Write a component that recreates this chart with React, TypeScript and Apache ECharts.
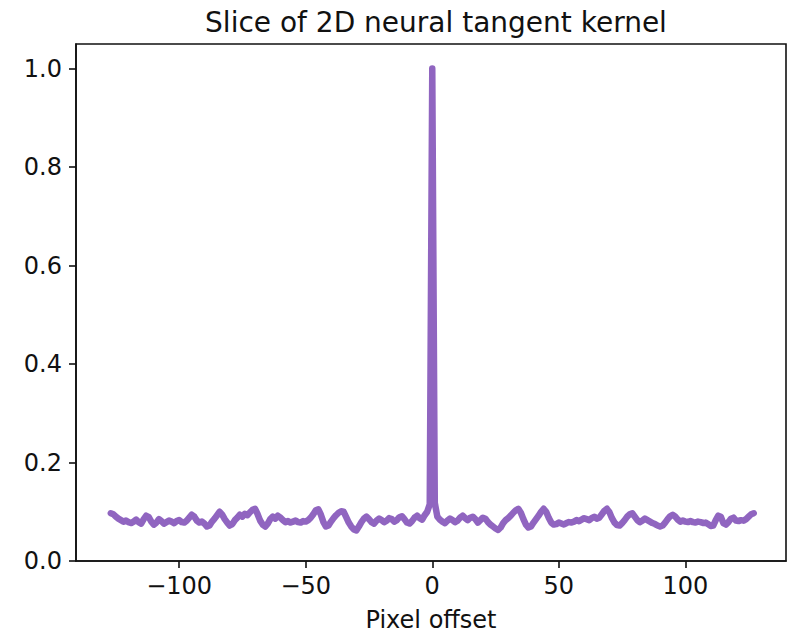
import React, { useEffect, useRef } from "react";
import * as echarts from "echarts";

// Kernel slice values for pixel offsets -128 .. -1
const kernelNegative: number[] = [
  0.097, 0.095, 0.090, 0.086, 0.083, 0.080, 0.082, 0.079,
  0.077, 0.080, 0.084, 0.079, 0.076, 0.085, 0.092, 0.089,
  0.080, 0.074, 0.078, 0.085, 0.081, 0.076, 0.079, 0.082,
  0.080, 0.077, 0.081, 0.083, 0.079, 0.078, 0.082, 0.088,
  0.094, 0.090, 0.082, 0.078, 0.080, 0.076, 0.070, 0.072,
  0.080, 0.086, 0.093, 0.100, 0.094, 0.085, 0.078, 0.072,
  0.075, 0.083, 0.088, 0.094, 0.090, 0.096, 0.093, 0.099,
  0.104, 0.106, 0.095, 0.082, 0.074, 0.070, 0.076, 0.085,
  0.090, 0.086, 0.092, 0.088, 0.083, 0.079, 0.081, 0.078,
  0.080, 0.082, 0.079, 0.078, 0.081, 0.080, 0.083, 0.088,
  0.095, 0.103, 0.105, 0.094, 0.079, 0.070, 0.072, 0.080,
  0.087, 0.093, 0.098, 0.101, 0.100, 0.089, 0.078, 0.070,
  0.064, 0.062, 0.070, 0.079, 0.086, 0.090, 0.085, 0.079,
  0.076, 0.082, 0.086, 0.083, 0.079, 0.082, 0.087, 0.085,
  0.080, 0.083, 0.089, 0.091, 0.085, 0.078, 0.076, 0.081,
  0.088, 0.092, 0.087, 0.084, 0.093, 0.100, 0.115,
];

// Value at zero offset
const kernelCenter = 1.0;

// Kernel slice values for pixel offsets 1 .. 127
const kernelPositive: number[] = [
  0.118, 0.090, 0.084, 0.080, 0.077, 0.082, 0.086, 0.083,
  0.079, 0.082, 0.088, 0.092, 0.087, 0.083, 0.088, 0.090,
  0.085, 0.078, 0.083, 0.088, 0.086, 0.079, 0.074, 0.070,
  0.066, 0.063, 0.068, 0.077, 0.083, 0.087, 0.092, 0.098,
  0.103, 0.106, 0.098, 0.085, 0.074, 0.068, 0.070, 0.078,
  0.085, 0.092, 0.100, 0.106, 0.100, 0.088, 0.078, 0.074,
  0.075, 0.078, 0.076, 0.074, 0.077, 0.079, 0.078, 0.080,
  0.083, 0.081, 0.084, 0.087, 0.085, 0.083, 0.087, 0.090,
  0.086, 0.088, 0.095, 0.102, 0.106, 0.099, 0.087, 0.078,
  0.073, 0.072, 0.077, 0.083, 0.090, 0.095, 0.097, 0.090,
  0.083, 0.079, 0.082, 0.086, 0.083, 0.080, 0.077, 0.075,
  0.072, 0.070, 0.072, 0.078, 0.085, 0.091, 0.094, 0.090,
  0.084, 0.080, 0.082, 0.080, 0.079, 0.081, 0.079, 0.078,
  0.080, 0.079, 0.077, 0.078, 0.075, 0.071, 0.072, 0.083,
  0.092, 0.090, 0.077, 0.074, 0.079, 0.086, 0.088, 0.082,
  0.081, 0.083, 0.082, 0.085, 0.090, 0.095, 0.097,
];

const xTicks: number[] = [-100, -50, 0, 50, 100];
const yTicks: number[] = [0, 0.2, 0.4, 0.6, 0.8, 1.0];

const chartTitle = "Slice of 2D neural tangent kernel";
const xAxisTitle = "Pixel offset";

const FONT = "DejaVu Sans";
const INK = "#111111";

const fmtX = (v: number) => (v < 0 ? "\u2212" + Math.abs(v) : String(v));

export default function App() {
  const ref = useRef<HTMLDivElement>(null);

  useEffect(() => {
    if (!ref.current) return;
    const chart = echarts.init(ref.current, undefined, { renderer: "svg" });

    const values = [...kernelNegative, kernelCenter, ...kernelPositive];
    const points = values.map((v, i) => [i - kernelNegative.length, v]);

    chart.setOption({
      animation: false,
      backgroundColor: "#ffffff",
      title: {
        text: chartTitle,
        left: 431,
        top: 3,
        textAlign: "center",
        textStyle: { fontFamily: FONT, fontSize: 28, fontWeight: "normal", color: INK },
      },
      grid: {
        left: 76,
        right: 16,
        top: 44,
        bottom: 72,
        outerBoundsMode: "none",
        containLabel: false,
        show: true,
        borderColor: INK,
        borderWidth: 1.6,
        backgroundColor: "transparent",
      },
      xAxis: {
        type: "value",
        min: -140.75,
        max: 139.75,
        name: xAxisTitle,
        nameLocation: "middle",
        nameGap: 47,
        nameTextStyle: { fontFamily: FONT, fontSize: 24, color: INK },
        axisLine: { show: true, onZero: false, lineStyle: { color: INK, width: 1.6 } },
        axisTick: {
          show: true,
          inside: false,
          length: 7,
          customValues: xTicks,
          lineStyle: { color: INK, width: 1.6 },
        },
        axisLabel: {
          customValues: xTicks,
          margin: 13,
          fontFamily: FONT,
          fontSize: 24,
          color: INK,
          formatter: fmtX,
        },
        splitLine: { show: false },
      },
      yAxis: {
        type: "value",
        min: 0,
        max: 1.05,
        axisLine: { show: true, onZero: false, lineStyle: { color: INK, width: 1.6 } },
        axisTick: {
          show: true,
          inside: false,
          length: 7,
          customValues: yTicks,
          lineStyle: { color: INK, width: 1.6 },
        },
        axisLabel: {
          customValues: yTicks,
          margin: 14,
          fontFamily: FONT,
          fontSize: 24,
          color: INK,
          formatter: (v: number) => v.toFixed(1),
        },
        splitLine: { show: false },
      },
      series: [
        {
          type: "line",
          data: points,
          symbol: "none",
          lineStyle: { color: "#9065c0", width: 6.5, cap: "round", join: "round" },
          z: 3,
        },
      ],
    });

    return () => chart.dispose();
  }, []);

  return (
    <div
      ref={ref}
      style={{ position: "fixed", left: 0, top: 0, width: 802, height: 633 }}
    />
  );
}
